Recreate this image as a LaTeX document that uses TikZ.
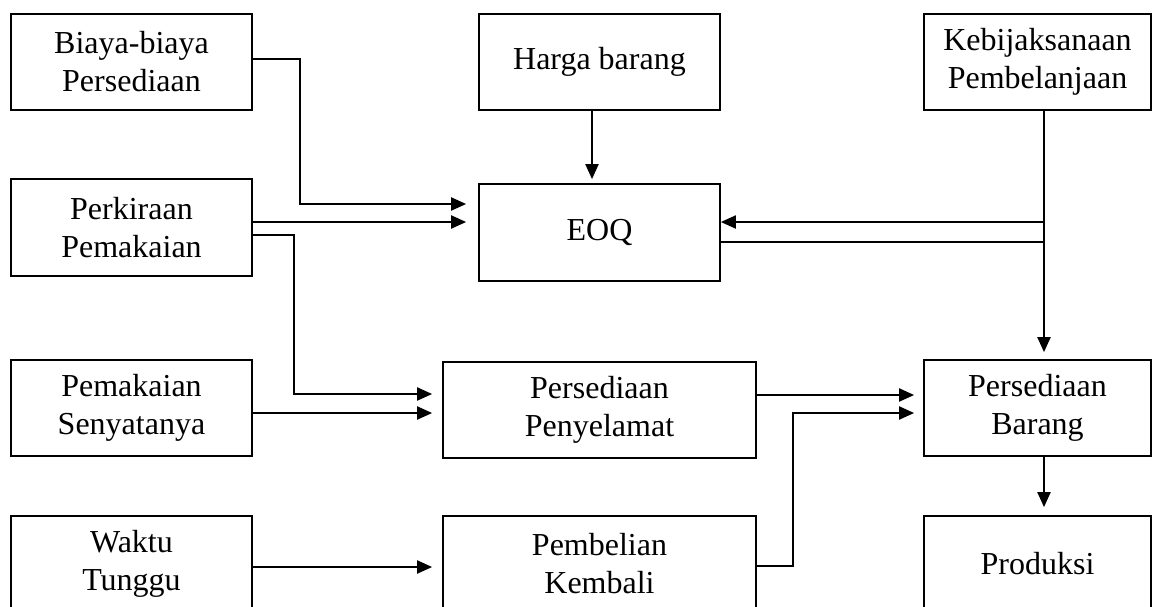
\documentclass[tikz,border=0pt]{standalone}
\usepackage{fontspec}
\setmainfont{Liberation Serif}
\usetikzlibrary{arrows.meta,calc,positioning}
\tikzset{
  box/.style={draw, line width=0.85pt, inner sep=0pt, align=center, minimum height=48pt, font=\fontsize{16}{19}\selectfont},
  narrowbox/.style={box, minimum width=120.5pt},
  widebox/.style={box, minimum width=156.5pt},
  rightbox/.style={box, minimum width=113.5pt},
  link/.style={line width=1pt},
  flow/.style={link, -{Triangle[length=7.5pt,width=6.5pt]}}
}

\begin{document}
\begin{tikzpicture}[x=0.5pt,y=-0.5pt]
  \useasboundingbox (0,0) rectangle (1152,606);
  \clip (0,0) rectangle (1152,606);
  % boxes
  \node[narrowbox] (biaya) at (131.5,62) {Biaya-biaya\\Persediaan};
  \node[narrowbox] (harga) at (599.5,62) {Harga barang};
  \node[rightbox] (kebijakan) at (1037.5,62) {Kebijaksanaan\\Pembelanjaan};
  \node[narrowbox, minimum height=48.5pt] (perkiraan) at (131.5,227.5) {Perkiraan\\Pemakaian};
  \node[narrowbox, minimum height=48.5pt] (eoq) at (599.5,232.5) {EOQ};
  \node[narrowbox] (pemakaian) at (131.5,408) {Pemakaian\\Senyatanya};
  \node[widebox] (penyelamat) at (599.5,410) {Persediaan\\Penyelamat};
  \node[rightbox] (barang) at (1037.5,408) {Persediaan\\Barang};
  \node[narrowbox] (waktu) at (131.5,564) {Waktu\\Tunggu};
  \node[widebox] (pembelian) at (599.5,564) {Pembelian\\Kembali};
  \node[rightbox] (produksi) at (1037.5,564) {Produksi};
  \coordinate (kb) at ([xshift=3.25pt]kebijakan.south);
  \coordinate (eoqin) at ([yshift=5.25pt]eoq.east);
  \coordinate (eoqout) at ([yshift=-4.75pt]eoq.east);
  % inputs to EOQ
  \draw[flow, shorten >=6pt] ([yshift=1.5pt]biaya.east) -- ++(23.5pt,0) |- ([yshift=14.25pt]eoq.west);
  \draw[flow, shorten >=6pt] ([yshift=2.75pt]perkiraan.east) -- ([yshift=5.25pt]eoq.west);
  \draw[flow, shorten >=2pt] ([xshift=-3.75pt]harga.south) -- ([xshift=-3.75pt]eoq.north);
  \draw[flow] (kb |- eoqin) -- (eoqin);
  \draw[link] (eoqout) -- (kb |- eoqout);
  % safety stock and reorder
  \draw[flow, shorten >=5pt] ([yshift=-3.75pt]perkiraan.east) -- ++(20.5pt,0) |- ([yshift=8pt]penyelamat.west);
  \draw[flow, shorten >=5pt] ([yshift=-2.5pt]pemakaian.east) -- ([yshift=-1.5pt]penyelamat.west);
  \draw[flow, shorten >=5pt] ([yshift=-1.5pt]waktu.east) -- ([yshift=-1.5pt]pembelian.west);
  % stock
  \draw[flow, shorten >=3.5pt] (kb) -- (kb |- barang.north);
  \draw[flow, shorten >=4.5pt] ([yshift=7.5pt]penyelamat.east) -- ([yshift=6.5pt]barang.west);
  \draw[flow, shorten >=4.5pt] ([yshift=-1pt]pembelian.east) -- ++(18pt,0) |- ([yshift=-2.5pt]barang.west);
  \draw[flow, shorten >=4pt] (kb |- barang.south) -- (kb |- produksi.north);
\end{tikzpicture}
\end{document}
